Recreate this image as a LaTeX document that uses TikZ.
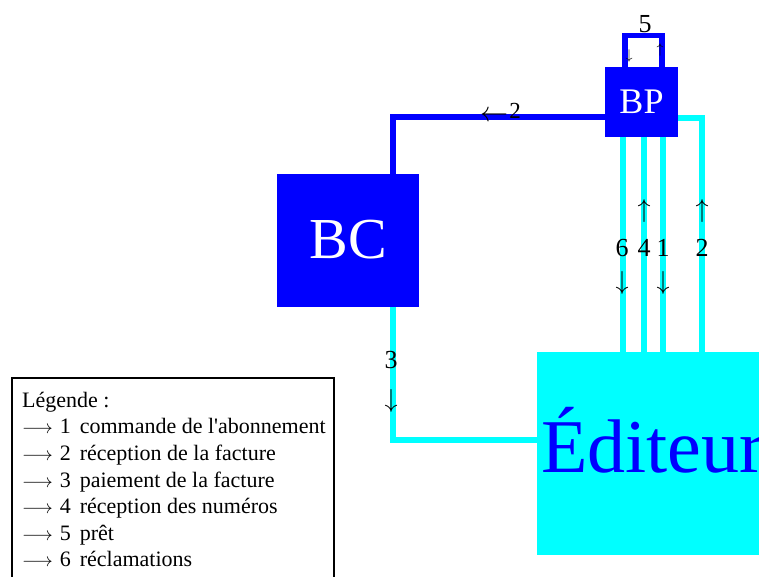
\RequirePackage{fix-cm}
\documentclass[tikz,border=0pt]{standalone}
\usepackage{fontspec}
\setmainfont{Liberation Serif}
\usetikzlibrary{backgrounds}
\definecolor{bblue}{RGB}{0,0,255}
\definecolor{ccyan}{RGB}{0,255,255}
\newcommand{\legarrow}{{\fontsize{19}{19}\selectfont$\longrightarrow$}}
\tikzset{
  boxbase/.style={rectangle, inner sep=0pt, outer sep=0pt},
  bluebox/.style={boxbase, fill=bblue, text=white},
  cyanbox/.style={boxbase, fill=ccyan},
  blueline/.style={draw=bblue, line width=5.5pt},
  cyanline/.style={draw=ccyan, line width=5.5pt},
  lbl/.style={font=\fontsize{26}{30}\selectfont, inner sep=0pt, text=black},
  tinylbl/.style={font=\fontsize{14}{14}\selectfont, inner sep=0pt, text=black},
  legtext/.style={anchor=base west, font=\fontsize{22}{26}\selectfont, inner sep=0pt},
}
\begin{document}
\begin{tikzpicture}[x=1pt,y=-1pt]
\useasboundingbox (0,0) rectangle (759,576);
\clip (0,0) rectangle (759,576);
% boxes
\node[bluebox, minimum width=73pt, minimum height=70pt, font=\fontsize{36}{36}\selectfont] (BP) at (641.5,101.5) {BP};
\node[bluebox, minimum width=142pt, minimum height=133pt, font=\fontsize{58}{58}\selectfont] (BC) at (348,240) {BC};
\node[cyanbox, minimum width=253pt, minimum height=203pt] (ED) at (663.5,453.5) {};
\node[anchor=base west, inner sep=0pt, text=bblue, font=\fontsize{76}{76}\selectfont] (edtxt) at (541,472) {Éditeur};
% helper coordinates
\coordinate (p6) at ([xshift=-18.5pt]BP.south);
\coordinate (p4) at ([xshift=2.5pt]BP.south);
\coordinate (p1) at ([xshift=21.5pt]BP.south);
\coordinate (p5a) at ([xshift=-16.5pt]BP.north);
\coordinate (p5b) at ([xshift=20.5pt]BP.north);
% connectors
\begin{pgfonlayer}{background}
\draw[blueline] ([yshift=-15.5pt]BP.west) -| ([xshift=45pt]BC.north);
\draw[blueline] (p5a) -- ++(0,-31) -| (p5b);
\draw[cyanline] ([xshift=45pt]BC.south) |- ([yshift=13.5pt]ED.west);
\draw[cyanline] (p6) -- (p6 |- ED.north);
\draw[cyanline] (p4) -- (p4 |- ED.north);
\draw[cyanline] (p1) -- (p1 |- ED.north);
\draw[cyanline] ([yshift=-16.5pt]BP.east) -| ([xshift=38.5pt]ED.north);
\end{pgfonlayer}
% labels
\node[lbl] (l5) at (645,24) {5};
\node[tinylbl] (a5d) at (629,56) {$\downarrow$};
\node[tinylbl] (a5u) at (660,50) {$\uparrow$};
\node[font=\fontsize{28}{28}\selectfont, inner sep=0pt] (a2l) at (494,116) {$\leftarrow$};
\node[font=\fontsize{23}{23}\selectfont, inner sep=0pt, anchor=base] (l2a) at (515,118) {2};
\node[lbl] (l6) at (622,248) {6};
\node[lbl] (l4) at (644,248) {4};
\node[lbl] (l1) at (663,248) {1};
\node[lbl] (l2b) at (702,248) {2};
\node[lbl] (a4) at (644,211) {$\uparrow$};
\node[lbl] (a2) at (702,211) {$\uparrow$};
\node[lbl] (a6) at (622,283) {$\downarrow$};
\node[lbl] (a1) at (663,283) {$\downarrow$};
\node[lbl] (l3) at (391,360) {3};
\node[lbl] (a3) at (391,401) {$\downarrow$};
% legend
\node[draw, line width=1.3pt, boxbase, anchor=north west, minimum width=322pt, minimum height=240pt] (leg) at (12,378) {};
\node[legtext] (t0) at (22,407) {Légende :};
\node[legtext] (t1) at (22,433) {\legarrow\hspace{7pt}1\hspace{9pt}commande de l\textquotesingle abonnement};
\node[legtext] (t2) at (22,460) {\legarrow\hspace{7pt}2\hspace{9pt}réception de la facture};
\node[legtext] (t3) at (22,487) {\legarrow\hspace{7pt}3\hspace{9pt}paiement de la facture};
\node[legtext] (t4) at (22,513) {\legarrow\hspace{7pt}4\hspace{9pt}réception des numéros};
\node[legtext] (t5) at (22,540) {\legarrow\hspace{7pt}5\hspace{9pt}prêt};
\node[legtext] (t6) at (22,566) {\legarrow\hspace{7pt}6\hspace{9pt}réclamations};
\end{tikzpicture}
\end{document}
